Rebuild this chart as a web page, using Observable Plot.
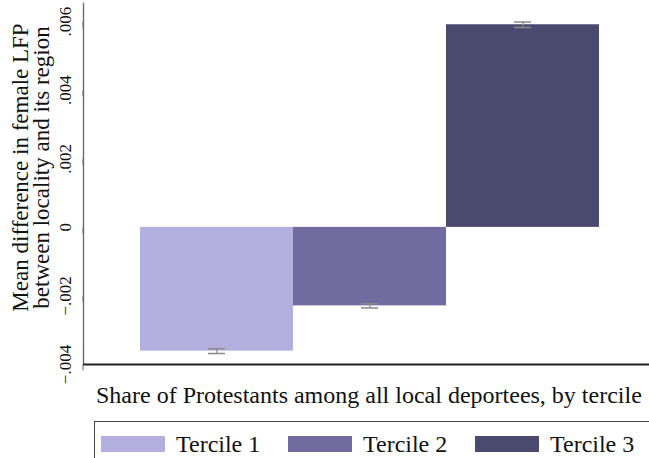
<!DOCTYPE html>
<html>
<head>
<meta charset="utf-8">
<script src="https://cdn.jsdelivr.net/npm/d3@7"></script>
<script src="https://cdn.jsdelivr.net/npm/@observablehq/plot@0.6"></script>
<style>
  html, body { margin: 0; padding: 0; background: #fff; }
  body { width: 649px; height: 458px; overflow: hidden; position: relative; font-family: "Liberation Serif", "Times New Roman", Times, serif; }
  #chart { position: absolute; left: 0; top: 0; }
  #xtitle { position: absolute; left: 96px; top: 383px; font-size: 24px; line-height: 24px; white-space: nowrap; color: #111; }
  #legend { position: absolute; left: 94px; top: 421px; width: 620px; height: 60px; border: 1px solid #444; box-sizing: border-box; background: #fff; }
  .item { position: absolute; top: 10px; display: flex; align-items: center; font-size: 24px; line-height: 24px; color: #111; white-space: nowrap; }
  .sw { width: 64px; height: 16px; margin-right: 11px; }
</style>
</head>
<body>
<div id="chart"></div>
<div id="xtitle"></div>
<div id="legend"></div>
<script>
const terciles = ["Tercile 1", "Tercile 2", "Tercile 3"];
const means = [-0.00361, -0.00229, 0.00591];
const ciLow = [-0.00368, -0.00235, 0.00583];
const ciHigh = [-0.00354, -0.00223, 0.00599];
const colors = ["#b3b0e0", "#706ca0", "#4a496e"];
const yTicks = [-0.004, -0.002, 0, 0.002, 0.004, 0.006];
const yDomain = [-0.004, 0.00653];
const yTitle = ["Mean difference in female LFP", "between locality and its region"];
const xTitle = "Share of Protestants among all local deportees, by tercile";

const rows = terciles.map((t, i) => ({tercile: t, value: means[i], lo: ciLow[i], hi: ciHigh[i]}));
const fmt = d => d === 0 ? "0" : d3.format(".3f")(d).replace("0.", ".");
const serif = "'Liberation Serif', 'Times New Roman', Times, serif";

const plot = Plot.plot({
  width: 649,
  height: 392,
  marginLeft: 83,
  marginRight: 0,
  marginTop: 3,
  marginBottom: 28,
  style: {fontFamily: serif, background: "transparent"},
  x: {type: "band", domain: terciles, paddingInner: 0, paddingOuter: 0.34, align: 0.53, axis: null},
  y: {domain: yDomain},
  color: {domain: terciles, range: colors},
  marks: [
    Plot.barY(rows, {x: "tercile", y: "value", fill: "tercile"}),
    Plot.ruleX(rows, {x: "tercile", y1: "lo", y2: "hi", stroke: "#8a8a8a", strokeWidth: 1.3}),
    Plot.tickY(rows, {x: "tercile", y: "lo", stroke: "#8a8a8a", strokeWidth: 1.5, insetLeft: 68, insetRight: 68}),
    Plot.tickY(rows, {x: "tercile", y: "hi", stroke: "#8a8a8a", strokeWidth: 1.5, insetLeft: 68, insetRight: 68}),
    Plot.frame({anchor: "left", stroke: "#666", strokeWidth: 1.3}),
    Plot.ruleY([yDomain[0]], {stroke: "#222", strokeWidth: 2}),
    Plot.axisY({ticks: yTicks, tickFormat: fmt, rotate: -90, textAnchor: "middle", tickSize: 6, tickPadding: 12, fontSize: 17, label: null, stroke: "#666", color: "#111"}),
    Plot.text([yTitle[0]], {text: d => d, frameAnchor: "left", rotate: -90, textAnchor: "middle", lineAnchor: "middle", dx: -63, dy: -16.5, fontSize: 23, fill: "#111"}),
    Plot.text([yTitle[1]], {text: d => d, frameAnchor: "left", rotate: -90, textAnchor: "middle", lineAnchor: "middle", dx: -42, dy: -16.5, fontSize: 23, fill: "#111"})
  ]
});
document.getElementById("chart").appendChild(plot);
document.getElementById("xtitle").textContent = xTitle;

const legend = document.getElementById("legend");
terciles.forEach((t, i) => {
  const item = document.createElement("div");
  item.className = "item";
  item.style.left = (6 + 187 * i) + "px";
  const sw = document.createElement("div");
  sw.className = "sw";
  sw.style.background = colors[i];
  const lab = document.createElement("span");
  lab.textContent = t;
  item.appendChild(sw);
  item.appendChild(lab);
  legend.appendChild(item);
});
</script>
</body>
</html>
